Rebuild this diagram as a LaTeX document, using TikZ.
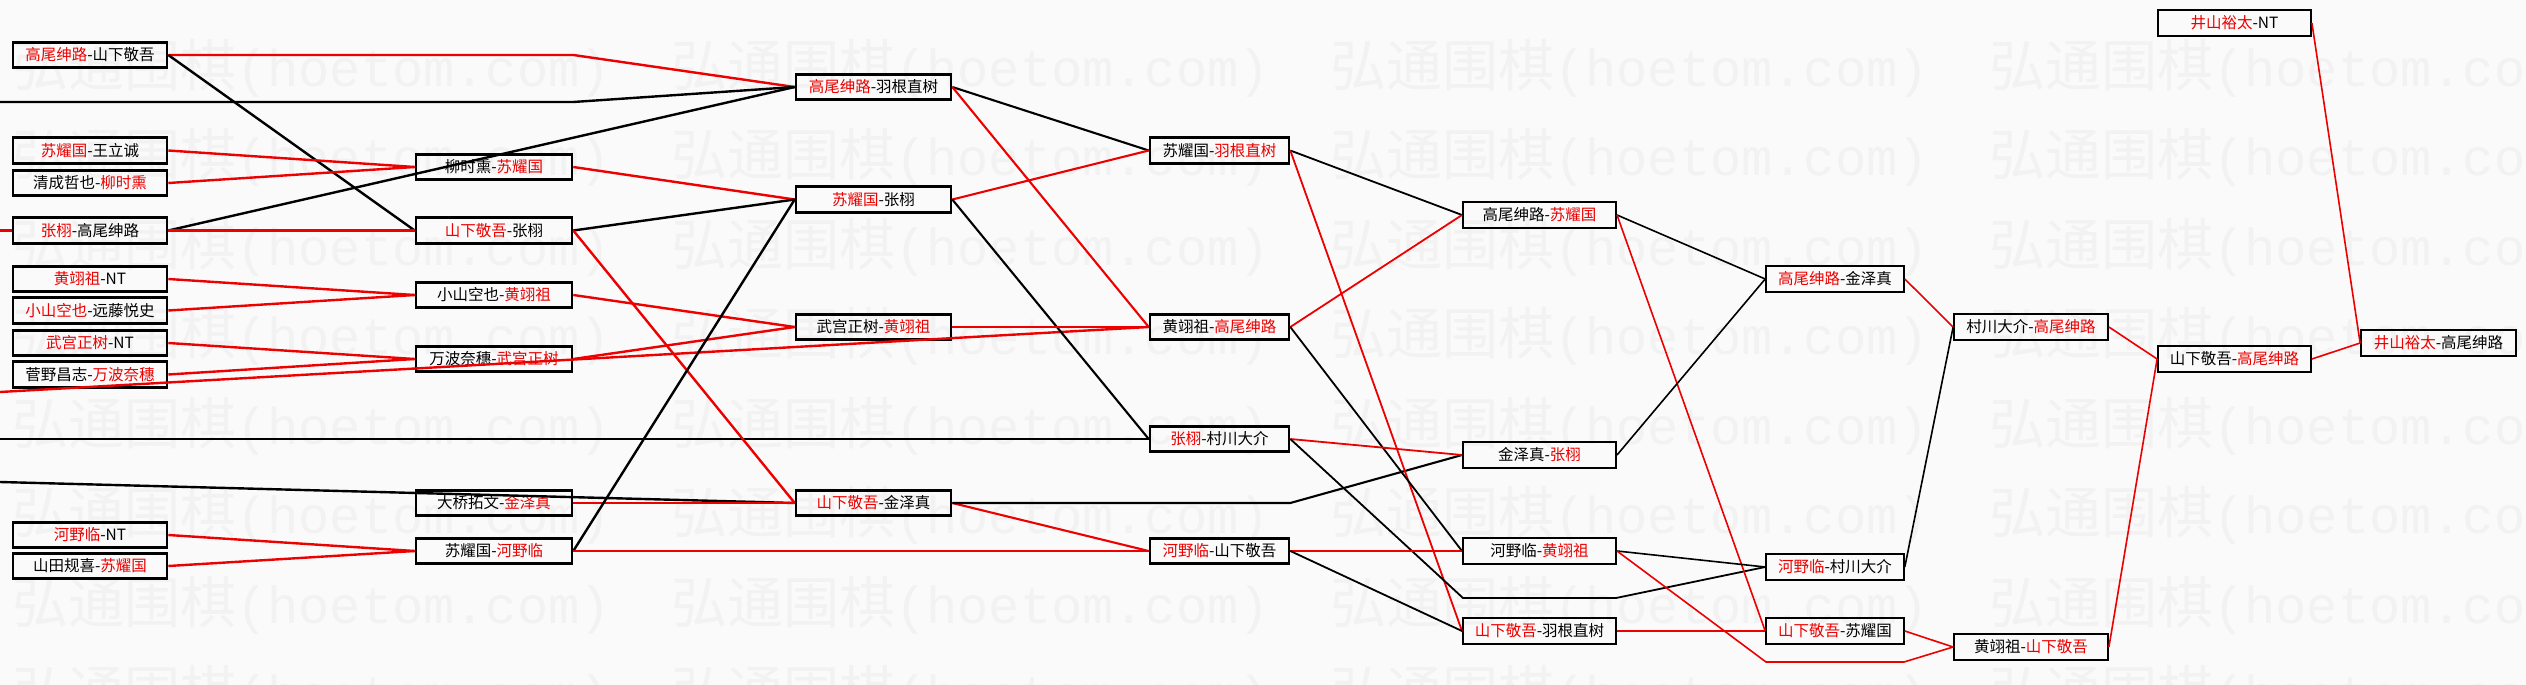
\documentclass[tikz,border=0pt]{standalone}
\usepackage{fontspec}
\newfontfamily\cjk{Noto Sans CJK SC}
\newfontfamily\wmmono{Liberation Mono}
\usetikzlibrary{calc}
\definecolor{rd}{RGB}{236,0,0}
\definecolor{bgc}{RGB}{250,250,250}
\definecolor{wmc}{RGB}{242,242,242}
\newcommand{\R}[1]{\textcolor{rd}{#1}}
\begin{document}
\begin{tikzpicture}[x=1pt,y=-1pt,
  box/.style={draw=black, minimum height=25.5pt, inner sep=0pt, text=black,
    font=\cjk\fontsize{15.5}{16}\selectfont},
  boxA/.style={box, line width=2.6pt, minimum width=154pt},
  boxB/.style={box, line width=2.6pt, minimum width=156pt},
  boxC/.style={box, line width=2.6pt, minimum width=155pt},
  boxD/.style={box, line width=2.6pt, minimum width=139pt},
  boxE/.style={box, line width=2.0pt, minimum width=153pt},
  boxF/.style={box, line width=1.6pt, minimum width=138pt},
  boxG/.style={box, line width=1.8pt, minimum width=154pt},
  boxH/.style={box, line width=1.8pt, minimum width=153pt},
  boxI/.style={box, line width=1.8pt, minimum width=155pt},
  wm/.style={anchor=west, inner sep=0pt, text=wmc},
  win/.style={draw=rd},
  lose/.style={draw=black},
  wA/.style={line width=2.4pt},
  wB/.style={line width=2.1pt},
  wC/.style={line width=1.8pt},
  wD/.style={line width=1.6pt}
]
\useasboundingbox (0,0) rectangle (2526,685);
\fill[bgc] (0,0) rectangle (2526,685);
% watermark
\begin{scope}
\clip (0,0) rectangle (2526,685);
\foreach \yy in {68,157.5,247,336.5,426,515.5,605,694.5}{
  \foreach \xx [count=\i] in {12,671,1330,1989}{
    \node[wm] (wm-\i-\yy) at (\xx,\yy) {{\cjk\fontsize{56}{60}\selectfont 弘通围棋}{\wmmono\fontsize{52}{60}\selectfont (hoetom.com)}};
  }
}
\end{scope}

% column 1
\node[boxA] (A1) at (90,55) {\R{高尾绅路}-山下敬吾};
\node[boxA] (A2) at (90,150.5) {\R{苏耀国}-王立诚};
\node[boxA] (A3) at (90,183) {清成哲也-\R{柳时熏}};
\node[boxA] (A4) at (90,230.5) {\R{张栩}-高尾绅路};
\node[boxA] (A5) at (90,279) {\R{黄翊祖}-NT};
\node[boxA] (A6) at (90,310.5) {\R{小山空也}-远藤悦史};
\node[boxA] (A7) at (90,343) {\R{武宫正树}-NT};
\node[boxA] (A8) at (90,374.5) {菅野昌志-\R{万波奈穗}};
\node[boxA] (A9) at (90,535) {\R{河野临}-NT};
\node[boxA] (A10) at (90,566) {山田规喜-\R{苏耀国}};
% column 2
\node[boxB] (B1) at (494,167) {柳时熏-\R{苏耀国}};
\node[boxB] (B2) at (494,230.5) {\R{山下敬吾}-张栩};
\node[boxB] (B3) at (494,295) {小山空也-\R{黄翊祖}};
\node[boxB] (B4) at (494,359) {万波奈穗-\R{武宫正树}};
\node[boxB] (B5) at (494,503) {大桥拓文-\R{金泽真}};
\node[boxB] (B6) at (494,551) {苏耀国-\R{河野临}};
% column 3
\node[boxC] (C1) at (873.5,87) {\R{高尾绅路}-羽根直树};
\node[boxC] (C2) at (873.5,199.5) {\R{苏耀国}-张栩};
\node[boxC] (C3) at (873.5,327) {武宫正树-\R{黄翊祖}};
\node[boxC] (C4) at (873.5,503) {\R{山下敬吾}-金泽真};
% column 4
\node[boxD] (D1) at (1219.5,150.5) {苏耀国-\R{羽根直树}};
\node[boxD] (D2) at (1219.5,327) {黄翊祖-\R{高尾绅路}};
\node[boxD] (D3) at (1219.5,439) {\R{张栩}-村川大介};
\node[boxD] (D4) at (1219.5,551) {\R{河野临}-山下敬吾};
% column 5
\node[boxE] (E1) at (1539.5,215) {高尾绅路-\R{苏耀国}};
\node[boxE] (E2) at (1539.5,455) {金泽真-\R{张栩}};
\node[boxE] (E3) at (1539.5,551) {河野临-\R{黄翊祖}};
\node[boxE] (E4) at (1539.5,631) {\R{山下敬吾}-羽根直树};
% column 6
\node[boxF] (F1) at (1835,279) {\R{高尾绅路}-金泽真};
\node[boxF] (F2) at (1835,567) {\R{河野临}-村川大介};
\node[boxF] (F3) at (1835,631) {\R{山下敬吾}-苏耀国};
% column 7
\node[boxG] (G1) at (2031,327) {村川大介-\R{高尾绅路}};
\node[boxG] (G2) at (2031,647) {黄翊祖-\R{山下敬吾}};
% column 8
\node[boxH] (H1) at (2234.5,23) {\R{井山裕太}-NT};
\node[boxH] (H2) at (2234.5,359) {山下敬吾-\R{高尾绅路}};
% column 9
\node[boxI] (I1) at (2438.5,343) {\R{井山裕太}-高尾绅路};

% free ends and bends
\coordinate (L1) at (0,102);
\coordinate (L2) at (0,230.5);
\coordinate (L3) at (0,392);
\coordinate (L4) at (0,439);
\coordinate (L5) at (0,482);
\coordinate (k1) at (1463,598);
\coordinate (k2) at (1616,598);
\coordinate (k3) at (1766,662);
\coordinate (k4) at (1904,662);

% connectors from the left
\draw[win,wA] (A1.east) -- (A1.east -| B1.east) -- (C1.west);
\draw[lose,wA] (L1) -- (L1 -| B1.east) -- (C1.west);
\draw[lose,wA] (A4.east) -- (C1.west);
\draw[lose,wA] (A1.east) -- (B2.west);
\draw[win,wA] (L2) -- (A4.west);
\draw[win,wA] (A4.east) -- (B2.west);
\draw[win,wA] (A2.east) -- (B1.west);
\draw[win,wA] (A3.east) -- (B1.west);
\draw[win,wA] (A5.east) -- (B3.west);
\draw[win,wA] (A6.east) -- (B3.west);
\draw[win,wA] (A7.east) -- (B4.west);
\draw[win,wA] (A8.east) -- (B4.west);
\draw[win,wA] (L3) -- (D2.west);
\draw[win,wA] (A9.east) -- (B6.west);
\draw[win,wA] (A10.east) -- (B6.west);
\draw[lose,wA] (L4) -- (D3.west);
\draw[lose,wA] (L5) -- (C4.west);
% column 2 onwards
\draw[win,wA] (B1.east) -- (C2.west);
\draw[lose,wA] (B2.east) -- (C2.west);
\draw[win,wA] (B2.east) -- (C4.west);
\draw[win,wA] (B3.east) -- (C3.west);
\draw[win,wA] (B4.east) -- (C3.west);
\draw[win,wA] (B5.east) -- (C4.west);
\draw[lose,wA] (B6.east) -- (C2.west);
\draw[win,wA] (B6.east) -- (D4.west);
% column 3 onwards
\draw[lose,wB] (C1.east) -- (D1.west);
\draw[win,wB] (C1.east) -- (D2.west);
\draw[win,wB] (C2.east) -- (D1.west);
\draw[lose,wB] (C2.east) -- (D3.west);
\draw[win,wB] (C3.east) -- (D2.west);
\draw[win,wB] (C4.east) -- (D4.west);
\draw[lose,wB] (C4.east) -- (C4.east -| D4.east) -- (E2.west);
% column 4 onwards
\draw[lose,wC] (D1.east) -- (E1.west);
\draw[win,wC] (D1.east) -- (E4.west);
\draw[win,wC] (D2.east) -- (E1.west);
\draw[lose,wC] (D2.east) -- (E3.west);
\draw[win,wC] (D3.east) -- (E2.west);
\draw[lose,wC] (D3.east) -- (k1) -- (k2) -- (F2.west);
\draw[win,wC] (D4.east) -- (E3.west);
\draw[lose,wC] (D4.east) -- (E4.west);
% column 5 onwards
\draw[lose,wD] (E1.east) -- (F1.west);
\draw[win,wD] (E1.east) -- (F3.west);
\draw[lose,wD] (E2.east) -- (F1.west);
\draw[lose,wD] (E3.east) -- (F2.west);
\draw[win,wD] (E3.east) -- (k3) -- (k4) -- (G2.west);
\draw[win,wD] (E4.east) -- (F3.west);
% column 6 onwards
\draw[win,wD] (F1.east) -- (G1.west);
\draw[lose,wD] (F2.east) -- (G1.west);
\draw[win,wD] (F3.east) -- (G2.west);
\draw[win,wD] (G1.east) -- (H2.west);
\draw[win,wD] (G2.east) -- (H2.west);
\draw[win,wD] (H1.east) -- (I1.west);
\draw[win,wD] (H2.east) -- (I1.west);
\end{tikzpicture}
\end{document}
